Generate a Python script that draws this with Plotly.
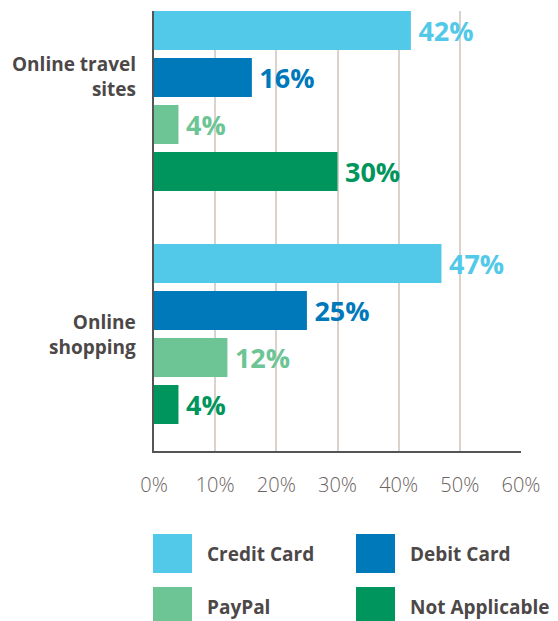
import plotly.graph_objects as go

# chart data
categories = ["Online travel sites", "Online shopping"]
series_names = ["Credit Card", "Debit Card", "PayPal", "Not Applicable"]
credit_card = [42, 47]
debit_card = [16, 25]
paypal = [4, 12]
not_applicable = [30, 4]
x_ticks = [0, 10, 20, 30, 40, 50, 60]
x_tick_labels = ["0%", "10%", "20%", "30%", "40%", "50%", "60%"]

colors = ["#52C9E8", "#0079BA", "#6DC495", "#00955C"]
series_values = [credit_card, debit_card, paypal, not_applicable]

FONT = "Open Sans"
TEXT_DARK = "#4d4848"

fig = go.Figure()
for name, vals, col in zip(series_names, series_values, colors):
    fig.add_trace(go.Bar(
        name=name, y=categories, x=vals, orientation="h",
        marker=dict(color=col, line=dict(width=0)),
        text=["\u2009" + f"{v}%" for v in vals], textposition="outside",
        outsidetextfont=dict(family=FONT, size=27, color=col, weight="bold"),
        cliponaxis=False, showlegend=False, hoverinfo="skip",
    ))

# category labels on the left (travel label sits a bit above its group)
label_text = {"Online travel sites": "Online travel<br>sites", "Online shopping": "Online<br>shopping"}
label_shift = {"Online travel sites": 24, "Online shopping": 0}
for cat in categories:
    fig.add_annotation(
        x=0, xref="paper", y=cat, yref="y", text=label_text[cat],
        xanchor="right", yanchor="middle", align="right", xshift=-16, yshift=label_shift[cat],
        showarrow=False, font=dict(family=FONT, size=19, color=TEXT_DARK, weight="bold"),
    )

# legend drawn as big swatches, 2 x 2 grid (pixel spots relative to the plot box)
legend_pos = [(153, 534), (356, 534), (153, 587), (356, 587)]
for (px, py), name, col in zip(legend_pos, series_names, colors):
    fig.add_shape(type="rect", xref="paper", yref="paper",
                  x0=(px - 154) / 367, x1=(px + 39 - 154) / 367,
                  y0=(451 - py) / 440, y1=(451 - py - 39) / 440,
                  fillcolor=col, line=dict(width=0))
    fig.add_annotation(x=(px + 52 - 154) / 367, y=(451 - py - 19.5) / 440,
                       xref="paper", yref="paper", text=name, showarrow=False,
                       xanchor="left", yanchor="middle",
                       font=dict(family=FONT, size=19, color=TEXT_DARK, weight="bold"))

fig.update_layout(
    barmode="group", bargap=0.193, bargroupgap=0.17,
    width=550, height=613,
    margin=dict(l=146, r=37, t=3, b=170),
    plot_bgcolor="white", paper_bgcolor="white",
    showlegend=False,
    xaxis=dict(range=[0, 60], tickvals=x_ticks, ticktext=x_tick_labels,
               showgrid=True, gridcolor="#DAD3CD", gridwidth=2,
               showline=True, linecolor="#555555", linewidth=2,
               zeroline=False, ticks="outside", ticklen=15, tickcolor="rgba(0,0,0,0)",
               tickfont=dict(family=FONT, size=20, color="#6b6361", weight=300),
               fixedrange=True),
    yaxis=dict(range=[1.502, -0.386], showticklabels=False, showgrid=False,
               showline=True, linecolor="#555555", linewidth=2, zeroline=False,
               fixedrange=True),
)

fig.write_html("out.html")
